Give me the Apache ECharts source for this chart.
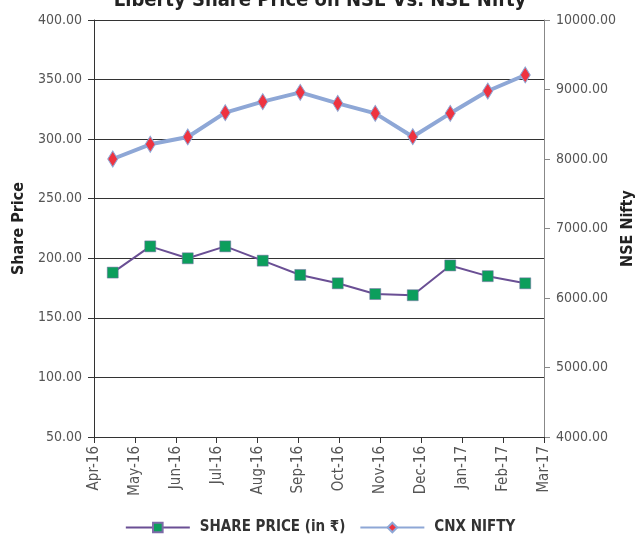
<!DOCTYPE html>
<html>
<head>
<meta charset="utf-8">
<script src="https://cdn.jsdelivr.net/npm/echarts@6/dist/echarts.min.js"></script>
<style>
  html, body { margin: 0; padding: 0; background: #fff; }
  #chart { width: 640px; height: 534px; }
</style>
</head>
<body>
<div id="chart"></div>
<script>
const MONTHS = ["Apr-16", "May-16", "Jun-16", "Jul-16", "Aug-16", "Sep-16", "Oct-16", "Nov-16", "Dec-16", "Jan-17", "Feb-17", "Mar-17"];
const SHARE_PRICE = [188, 210, 200, 210, 198, 186, 179, 170, 169, 194, 185, 179];
const CNX_NIFTY = [8000, 8212, 8317, 8667, 8825, 8959, 8801, 8657, 8321, 8657, 8978, 9209];

const FONT = "'Liberation Sans Narrow', 'DejaVu Sans Condensed', 'Liberation Sans', sans-serif";
const LABEL_COLOR = "#555";

const chart = echarts.init(document.getElementById("chart"), null, { renderer: "canvas" });

chart.setOption({
  animation: false,
  title: {
    text: "Liberty Share Price on NSE Vs. NSE Nifty",
    left: "center",
    top: -14,
    textStyle: { fontFamily: FONT, fontSize: 20, fontWeight: "bold", color: "#222" }
  },
  grid: { left: 94, right: 96, top: 20, bottom: 97, outerBoundsMode: "none", containLabel: false },
  legend: {
    bottom: -6,
    left: "center",
    itemWidth: 64,
    itemHeight: 12,
    itemGap: 14,
    textStyle: { fontFamily: FONT, fontSize: 15, fontWeight: "bold", color: "#333", padding: [0, 0, 0, 5] },
    data: ["SHARE PRICE (in ₹)", "CNX NIFTY"]
  },
  xAxis: [
    {
      type: "category",
      data: MONTHS,
      boundaryGap: false,
      axisLine: { lineStyle: { color: "#333", width: 1 } },
      axisTick: { length: 6, lineStyle: { color: "#333" } },
      axisLabel: { rotate: 90, margin: 9, color: LABEL_COLOR, fontFamily: FONT, fontSize: 15, interval: 0 },
      splitLine: { show: false }
    },
    {
      type: "category",
      data: MONTHS,
      boundaryGap: true,
      show: false
    }
  ],
  yAxis: [
    {
      type: "value",
      min: 50,
      max: 400,
      interval: 50,
      name: "Share Price",
      nameLocation: "middle",
      nameRotate: 90,
      nameGap: 67,
      nameMoveOverlap: false,
      nameTextStyle: { fontFamily: FONT, fontSize: 16, fontWeight: "bold", color: "#222" },
      axisLine: { show: true, lineStyle: { color: "#333", width: 1 } },
      axisTick: { show: true, length: 6, lineStyle: { color: "#333" } },
      axisLabel: { formatter: (v) => v.toFixed(2), margin: 12, color: LABEL_COLOR, fontFamily: FONT, fontSize: 14 },
      splitLine: { show: true, lineStyle: { color: "#333", width: 1 } }
    },
    {
      type: "value",
      min: 4000,
      max: 10000,
      interval: 1000,
      position: "right",
      name: "NSE Nifty",
      nameLocation: "middle",
      nameRotate: 90,
      nameGap: 76,
      nameMoveOverlap: false,
      nameTextStyle: { fontFamily: FONT, fontSize: 16, fontWeight: "bold", color: "#222" },
      axisLine: { show: true, lineStyle: { color: "#888", width: 1 } },
      axisTick: { show: true, length: 6, lineStyle: { color: "#888" } },
      axisLabel: { formatter: (v) => v.toFixed(2), margin: 12, color: LABEL_COLOR, fontFamily: FONT, fontSize: 14 },
      splitLine: { show: false }
    }
  ],
  series: [
    {
      name: "SHARE PRICE (in ₹)",
      type: "line",
      xAxisIndex: 1,
      yAxisIndex: 0,
      data: SHARE_PRICE,
      symbol: "rect",
      symbolSize: 11,
      lineStyle: { color: "#6a4f94", width: 2 },
      itemStyle: { color: "#0c9e5c", borderColor: "#7d6aa8", borderWidth: 0.5 }
    },
    {
      name: "CNX NIFTY",
      type: "line",
      xAxisIndex: 1,
      yAxisIndex: 1,
      data: CNX_NIFTY,
      symbol: "diamond",
      symbolSize: [10, 16],
      lineStyle: { color: "#8ea7d6", width: 4 },
      itemStyle: { color: "#ee3340", borderColor: "#8ea7d6", borderWidth: 1 }
    }
  ]
});
</script>
</body>
</html>
